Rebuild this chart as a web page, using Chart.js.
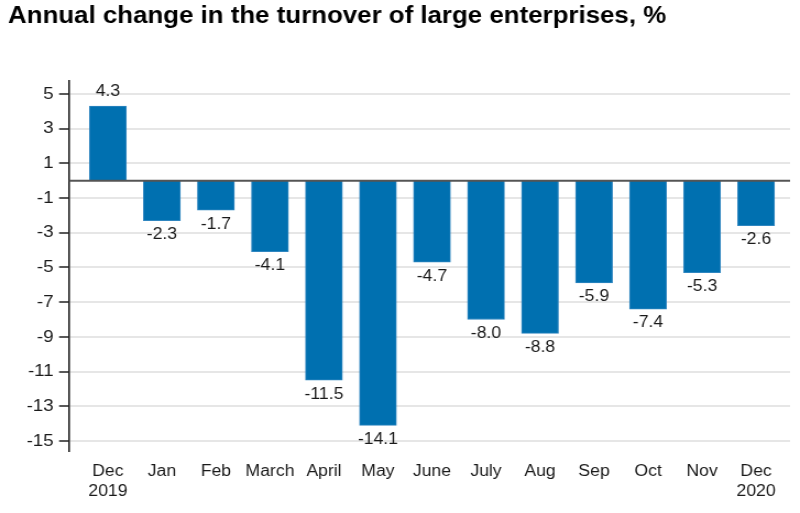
<!DOCTYPE html>
<html>
<head>
<meta charset="utf-8">
<script src="https://cdn.jsdelivr.net/npm/chart.js@4"></script>
<style>
    html, body { margin: 0; padding: 0; background: #fff; overflow: hidden; }
    /* the reference text is slightly wide, so the chart is drawn narrower and stretched */
    #wrap { width: 727px; height: 513px; transform: scaleX(1.1004); transform-origin: 0 0; }
</style>
</head>
<body>
<div id="wrap"><canvas id="turnoverChart"></canvas></div>
<script>
const monthLabels = [["Dec", "2019"], "Jan", "Feb", "March", "April", "May", "June", "July", "Aug", "Sep", "Oct", "Nov", ["Dec", "2020"]];
const changeValues = [4.3, -2.3, -1.7, -4.1, -11.5, -14.1, -4.7, -8.0, -8.8, -5.9, -7.4, -5.3, -2.6];
const yTickValues = [5, 3, 1, -1, -3, -5, -7, -9, -11, -13, -15];

const textColor = "#1a1a1a";
const fontFamily = "Arial, 'Liberation Sans', sans-serif";

const zeroLine = {
    id: "zeroLine",
    afterDatasetsDraw(chart) {
        const { ctx, chartArea, scales } = chart;
        const y = scales.y.getPixelForValue(0);
        ctx.save();
        ctx.strokeStyle = "#555";
        ctx.lineWidth = 2;
        ctx.beginPath();
        ctx.moveTo(chartArea.left, y);
        ctx.lineTo(chartArea.right, y);
        ctx.stroke();
        ctx.restore();
    }
};

const valueLabels = {
    id: "valueLabels",
    afterDatasetsDraw(chart) {
        const ctx = chart.ctx;
        const meta = chart.getDatasetMeta(0);
        ctx.save();
        ctx.font = "16px " + fontFamily;
        ctx.fillStyle = textColor;
        ctx.textAlign = "center";
        ctx.textBaseline = "middle";
        meta.data.forEach((bar, i) => {
            const v = changeValues[i];
            ctx.fillText(v.toFixed(1), bar.x, v >= 0 ? bar.y - 14 : bar.y + 14);
        });
        ctx.restore();
    }
};

new Chart(document.getElementById("turnoverChart"), {
    type: "bar",
    data: {
        datasets: [{
            data: changeValues.map((v, i) => ({ x: i, y: v })),
            backgroundColor: "#0070b0",
            borderColor: "#2f86c0",
            borderWidth: 1,
            barThickness: 33.6
        }]
    },
    options: {
        responsive: true,
        maintainAspectRatio: false,
        animation: false,
        layout: { padding: { left: 7.3, right: 9, top: 0, bottom: 0 } },
        plugins: {
            legend: { display: false },
            tooltip: { enabled: false },
            title: {
                display: true,
                align: "start",
                text: "Annual change in the turnover of large enterprises, %",
                color: "#000",
                font: { family: fontFamily, size: 23.5, weight: "bold" },
                padding: { top: 2, bottom: 50.5 }
            }
        },
        scales: {
            x: {
                type: "linear",
                offset: false,
                min: -0.72,
                max: 12.63,
                afterBuildTicks: (scale) => {
                    scale.ticks = monthLabels.map((_, i) => ({ value: i }));
                },
                afterFit: (scale) => { scale.height = 62; },
                grid: { display: false, drawTicks: false, offset: false },
                border: { display: false },
                ticks: {
                    autoSkip: false,
                    maxRotation: 0,
                    padding: 11,
                    color: textColor,
                    font: { family: fontFamily, size: 16, lineHeight: 1.25 },
                    callback: (value) => monthLabels[value]
                }
            },
            y: {
                min: -15.58,
                max: 5.76,
                afterBuildTicks: (scale) => {
                    scale.ticks = yTickValues.map((v) => ({ value: v }));
                },
                afterFit: (scale) => { scale.width = 55.4; },
                grid: {
                    color: "#e6e6e6",
                    lineWidth: 2,
                    tickColor: "#222",
                    tickWidth: 1.5,
                    tickLength: 9
                },
                border: { color: "#222", width: 1.6 },
                ticks: {
                    padding: 5,
                    color: textColor,
                    font: { family: fontFamily, size: 17 }
                }
            }
        }
    },
    plugins: [zeroLine, valueLabels]
});
</script>
</body>
</html>
